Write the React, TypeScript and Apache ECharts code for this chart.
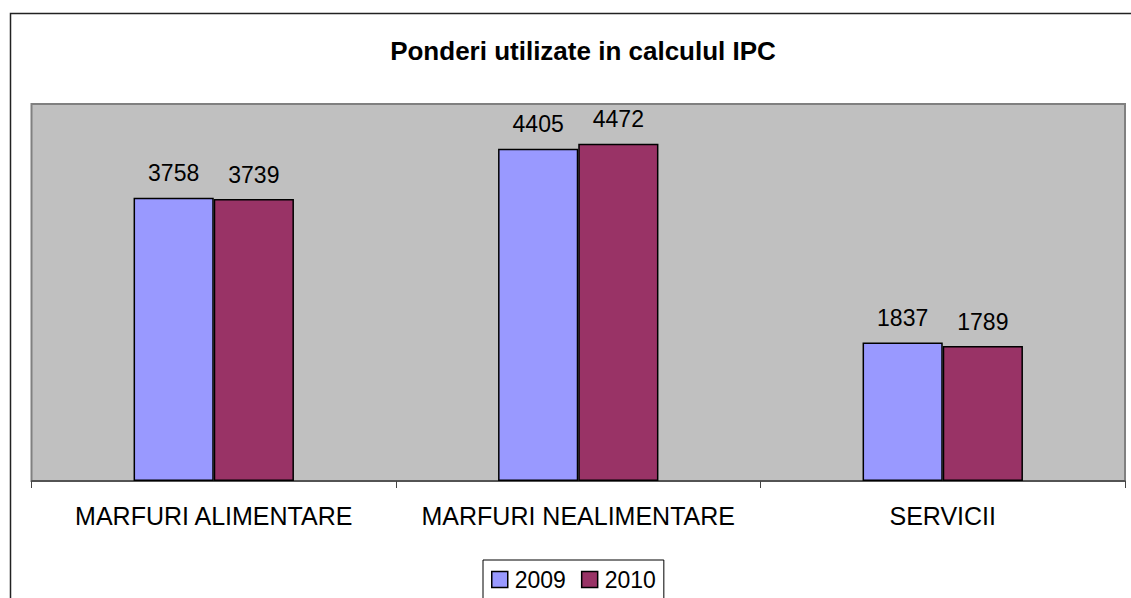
import React, { useEffect, useRef } from "react";
import * as echarts from "echarts";

const categories = ["MARFURI ALIMENTARE", "MARFURI NEALIMENTARE", "SERVICII"];
const seriesNames = ["2009", "2010"];
const values2009 = [3758, 4405, 1837];
const values2010 = [3739, 4472, 1789];

const FONT = "'Liberation Sans', Arial, sans-serif";

export default function App() {
  const ref = useRef<HTMLDivElement>(null);
  useEffect(() => {
    if (!ref.current) return;
    const chart = echarts.init(ref.current, undefined, { renderer: "svg" });
    const label = {
      show: true,
      position: "top",
      distance: 13,
      color: "#000",
      fontSize: 23,
      fontFamily: FONT,
    };
    chart.setOption({
      animation: false,
      backgroundColor: "#fff",
      title: {
        text: "Ponderi utilizate in calculul IPC",
        left: 578,
        textAlign: "center",
        top: 33,
        textStyle: { fontSize: 26, fontWeight: "bold", color: "#000", fontFamily: FONT },
      },
      graphic: [
        {
          type: "rect",
          shape: { x: 10.5, y: 13.5, width: 1300, height: 800 },
          style: { fill: "none", stroke: "#222", lineWidth: 1.5 },
          silent: true,
          z: -1,
        },
      ],
      legend: {
        data: seriesNames,
        left: 483,
        top: 560,
        padding: [8, 8, 30, 8],
        borderColor: "#000",
        borderWidth: 1,
        itemWidth: 16,
        itemHeight: 16,
        itemGap: 15,
        icon: "rect",
        itemStyle: { borderColor: "#000", borderWidth: 1.5 },
        textStyle: { fontSize: 23, color: "#000", fontFamily: FONT, padding: [0, 0, 0, 2] },
      },
      grid: {
        left: 31.5,
        right: 6,
        top: 104,
        bottom: 117,
        show: true,
        backgroundColor: "#C0C0C0",
        borderColor: "#808080",
        borderWidth: 2,
        containLabel: false,
      },
      xAxis: {
        type: "category",
        data: categories,
        axisLine: { show: true, lineStyle: { color: "#444", width: 1.5 } },
        axisTick: { show: true, length: 7, lineStyle: { color: "#444", width: 1 } },
        axisLabel: { interval: 0, margin: 22, fontSize: 25, color: "#000", fontFamily: FONT },
      },
      yAxis: {
        type: "value",
        min: 0,
        max: 5000,
        interval: 1000,
        show: false,
        splitLine: { show: false },
      },
      series: [
        {
          name: seriesNames[0],
          type: "bar",
          data: values2009,
          barWidth: "22%",
          barGap: "0%",
          itemStyle: { color: "#9999FF", borderColor: "#000", borderWidth: 1.5 },
          label,
        },
        {
          name: seriesNames[1],
          type: "bar",
          data: values2010,
          barWidth: "22%",
          barGap: "0%",
          itemStyle: { color: "#993366", borderColor: "#000", borderWidth: 1.5 },
          label,
        },
      ],
    });
    return () => chart.dispose();
  }, []);
  return (
    <div
      ref={ref}
      style={{ position: "fixed", left: 0, top: 0, width: 1131, height: 598 }}
    />
  );
}
